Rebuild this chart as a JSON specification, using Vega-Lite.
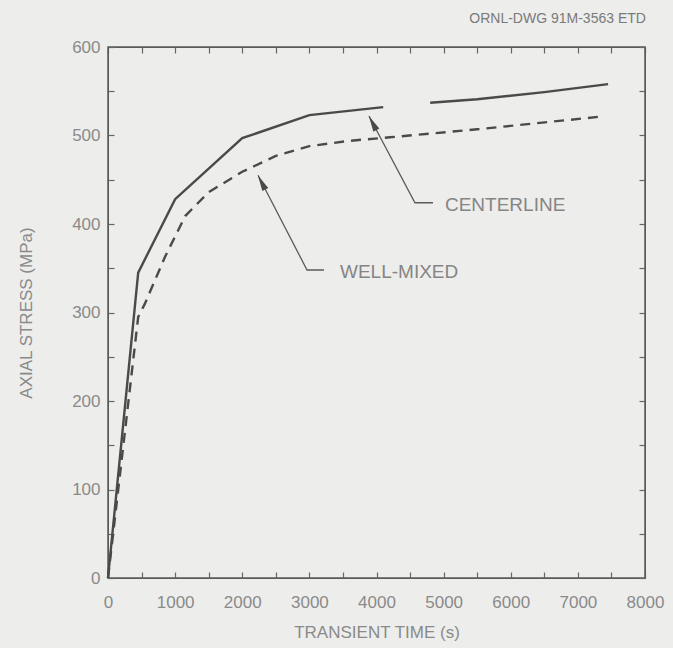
{
  "$schema": "https://vega.github.io/schema/vega-lite/v6.json",
  "width": 537,
  "height": 531,
  "autosize": {"type": "none"},
  "padding": {"left": 108, "top": 47, "right": 28, "bottom": 70},
  "background": "#ededeb",
  "title": {"text": "ORNL-DWG 91M-3563 ETD", "anchor": "end", "fontSize": 14, "fontWeight": "normal", "color": "#7a7a7a", "font": "Liberation Sans", "offset": 12, "dx": -18},
  "config": {
    "view": {"stroke": "#5a5a5a", "strokeWidth": 1.5},
    "axis": {"labelFont": "Liberation Sans", "labelFontSize": 17, "labelColor": "#8a8a8a", "titleFont": "Liberation Sans", "titleFontSize": 17, "titleFontWeight": "normal", "titleColor": "#8a8a8a", "tickColor": "#666666", "domainColor": "#5a5a5a", "grid": false, "tickWidth": 1.2, "labelFlush": false}
  },
  "datasets": {
    "curves": [
      {"series": "CENTERLINE", "seg": "a", "t": 0, "v": 0},
      {"series": "CENTERLINE", "seg": "a", "t": 450, "v": 345},
      {"series": "CENTERLINE", "seg": "a", "t": 1000, "v": 428},
      {"series": "CENTERLINE", "seg": "a", "t": 2000, "v": 497},
      {"series": "CENTERLINE", "seg": "a", "t": 3000, "v": 523},
      {"series": "CENTERLINE", "seg": "a", "t": 4100, "v": 532},
      {"series": "CENTERLINE", "seg": "b", "t": 4800, "v": 537},
      {"series": "CENTERLINE", "seg": "b", "t": 5500, "v": 541},
      {"series": "CENTERLINE", "seg": "b", "t": 6500, "v": 549},
      {"series": "CENTERLINE", "seg": "b", "t": 7450, "v": 558},
      {"series": "WELL-MIXED", "seg": "c", "t": 0, "v": 0},
      {"series": "WELL-MIXED", "seg": "c", "t": 450, "v": 295},
      {"series": "WELL-MIXED", "seg": "c", "t": 550, "v": 310},
      {"series": "WELL-MIXED", "seg": "c", "t": 850, "v": 363},
      {"series": "WELL-MIXED", "seg": "c", "t": 1150, "v": 409},
      {"series": "WELL-MIXED", "seg": "c", "t": 1500, "v": 436},
      {"series": "WELL-MIXED", "seg": "c", "t": 2000, "v": 459},
      {"series": "WELL-MIXED", "seg": "c", "t": 2500, "v": 477},
      {"series": "WELL-MIXED", "seg": "c", "t": 3000, "v": 488},
      {"series": "WELL-MIXED", "seg": "c", "t": 3600, "v": 494},
      {"series": "WELL-MIXED", "seg": "c", "t": 4200, "v": 498},
      {"series": "WELL-MIXED", "seg": "c", "t": 5500, "v": 507},
      {"series": "WELL-MIXED", "seg": "c", "t": 7300, "v": 521}
    ],
    "leaders": [
      {"label": "CENTERLINE", "t": 3888, "v": 522},
      {"label": "CENTERLINE", "t": 4573, "v": 424},
      {"label": "CENTERLINE", "t": 4842, "v": 424},
      {"label": "WELL-MIXED", "t": 2235, "v": 455},
      {"label": "WELL-MIXED", "t": 2965, "v": 348},
      {"label": "WELL-MIXED", "t": 3218, "v": 348}
    ],
    "arrows": [
      {"label": "CENTERLINE", "t": 3942, "v": 514},
      {"label": "WELL-MIXED", "t": 2288, "v": 447}
    ],
    "labels": [
      {"label": "CENTERLINE", "t": 5020, "v": 421},
      {"label": "WELL-MIXED", "t": 3456, "v": 346}
    ]
  },
  "resolve": {"axis": {"x": "independent", "y": "independent"}},
  "layer": [
    {
      "data": {"name": "curves"},
      "transform": [{"filter": "datum.series == 'CENTERLINE'"}],
      "mark": {"type": "line", "color": "#4a4a4a", "strokeWidth": 2.4},
      "encoding": {
        "x": {"field": "t", "type": "quantitative", "scale": {"domain": [0, 8000], "nice": false}, "axis": {"orient": "bottom", "title": "TRANSIENT TIME (s)", "values": [0, 500, 1000, 1500, 2000, 2500, 3000, 3500, 4000, 4500, 5000, 5500, 6000, 6500, 7000, 7500, 8000], "labelExpr": "datum.value % 1000 == 0 ? datum.label : ''", "format": "d", "tickSize": -6, "labelPadding": 22, "titlePadding": 14}},
        "y": {"field": "v", "type": "quantitative", "scale": {"domain": [0, 600], "nice": false}, "axis": {"orient": "left", "title": "AXIAL STRESS (MPa)", "values": [0, 50, 100, 150, 200, 250, 300, 350, 400, 450, 500, 550, 600], "labelExpr": "datum.value % 100 == 0 ? datum.label : ''", "tickSize": -6, "labelPadding": 14, "titlePadding": 36}},
        "detail": {"field": "seg"}
      }
    },
    {
      "data": {"name": "curves"},
      "transform": [{"filter": "datum.series == 'WELL-MIXED'"}],
      "mark": {"type": "line", "color": "#4a4a4a", "strokeWidth": 2.4, "strokeDash": [10, 7]},
      "encoding": {
        "x": {"field": "t", "type": "quantitative", "scale": {"domain": [0, 8000], "nice": false}, "axis": {"orient": "top", "title": null, "labels": false, "values": [0, 500, 1000, 1500, 2000, 2500, 3000, 3500, 4000, 4500, 5000, 5500, 6000, 6500, 7000, 7500, 8000], "tickSize": -6}},
        "y": {"field": "v", "type": "quantitative", "scale": {"domain": [0, 600], "nice": false}, "axis": {"orient": "right", "title": null, "labels": false, "values": [0, 50, 100, 150, 200, 250, 300, 350, 400, 450, 500, 550, 600], "tickSize": -6}},
        "detail": {"field": "seg"}
      }
    },
    {
      "data": {"name": "leaders"},
      "mark": {"type": "line", "color": "#5a5a5a", "strokeWidth": 1.3},
      "encoding": {
        "x": {"field": "t", "type": "quantitative", "axis": null},
        "y": {"field": "v", "type": "quantitative", "axis": null},
        "detail": {"field": "label"}
      }
    },
    {
      "data": {"name": "arrows"},
      "mark": {"type": "point", "shape": "M0,-1L0.42,1L-0.42,1Z", "filled": true, "color": "#4a4a4a", "size": 256, "angle": 332, "opacity": 1},
      "encoding": {
        "x": {"field": "t", "type": "quantitative", "axis": null},
        "y": {"field": "v", "type": "quantitative", "axis": null}
      }
    },
    {
      "data": {"name": "labels"},
      "mark": {"type": "text", "align": "left", "baseline": "middle", "font": "Liberation Sans", "fontSize": 19, "color": "#858585"},
      "encoding": {
        "x": {"field": "t", "type": "quantitative", "axis": null},
        "y": {"field": "v", "type": "quantitative", "axis": null},
        "text": {"field": "label"}
      }
    }
  ]
}
